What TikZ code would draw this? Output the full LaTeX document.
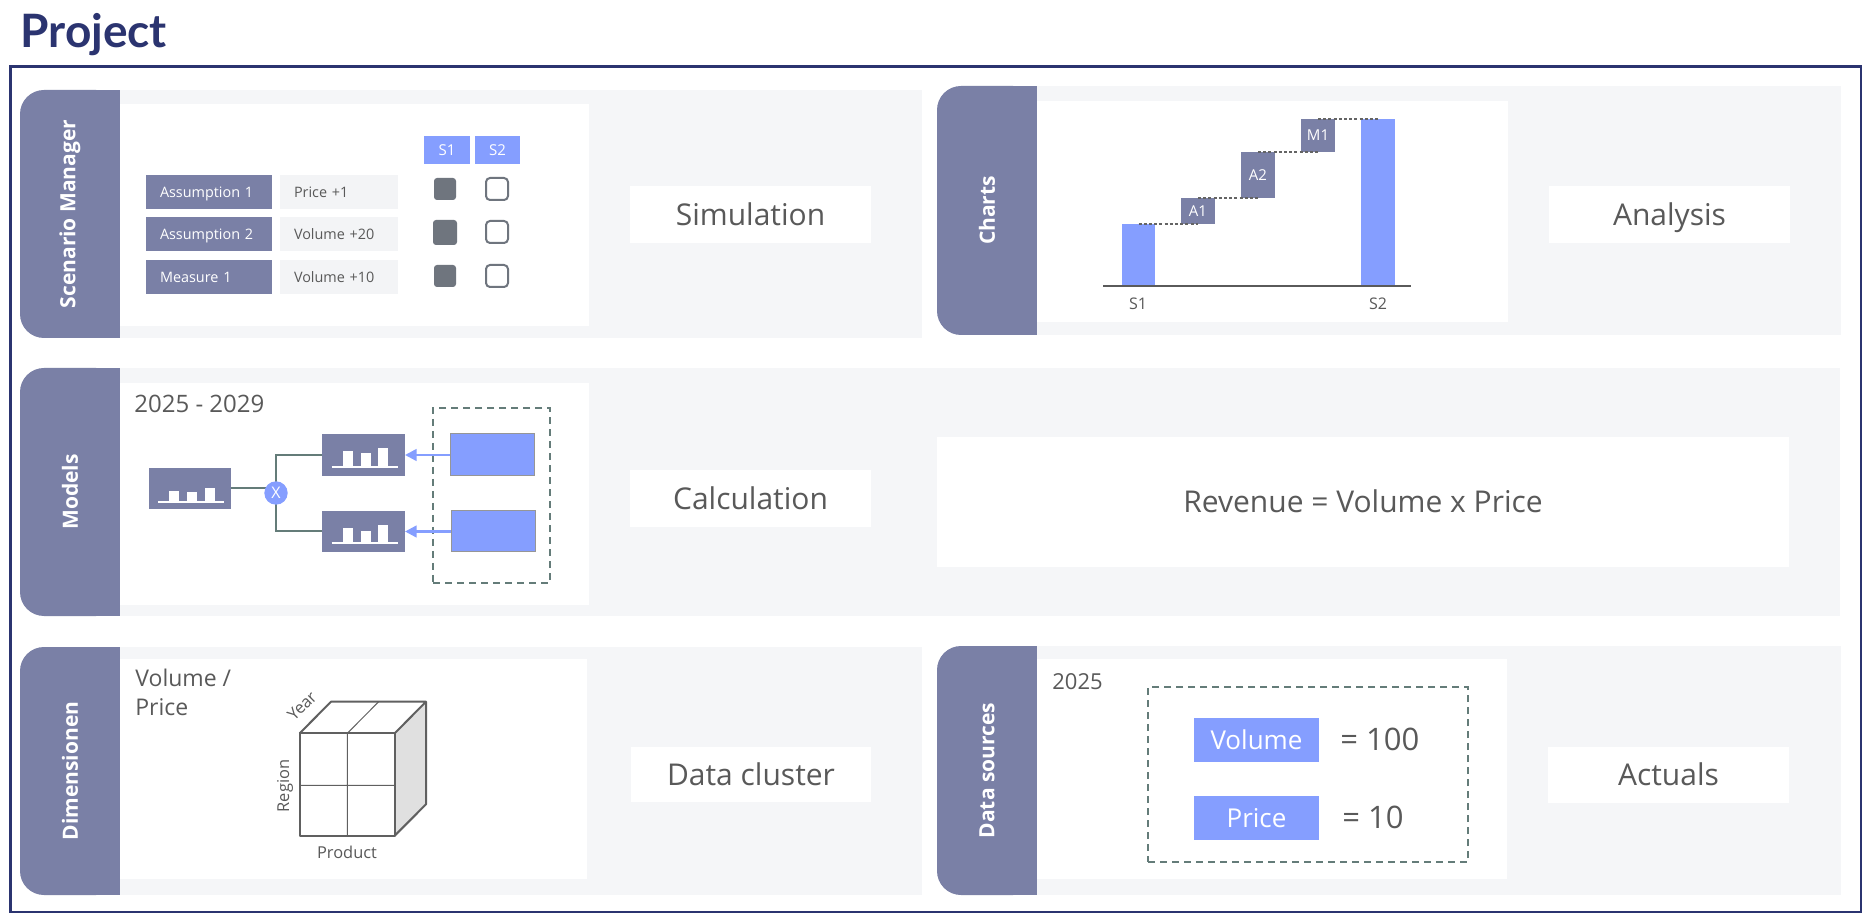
\documentclass[tikz,border=0pt]{standalone}
\usepackage{fontspec}
\setmainfont{Open Sans}
\newfontfamily\titlefont{Lato}
\usetikzlibrary{arrows.meta}
\definecolor{navy}{RGB}{43,52,112}
\definecolor{tabc}{RGB}{122,128,166}
\definecolor{panelbg}{RGB}{245,246,248}
\definecolor{rowbg}{RGB}{243,244,246}
\definecolor{bblue}{RGB}{133,158,255}
\definecolor{txtgray}{RGB}{89,89,89}
\definecolor{chk}{RGB}{111,117,126}
\definecolor{conngray}{RGB}{100,124,121}
\definecolor{cubeline}{RGB}{96,96,96}
\definecolor{cubeface}{RGB}{224,224,224}
\definecolor{rectline}{RGB}{150,150,150}
\definecolor{axisc}{RGB}{90,90,90}
\definecolor{dotc}{RGB}{100,100,100}

\newcommand\mkbox[7]{\node[bx,#6,minimum width={(#4-#2)*0.5pt},minimum height={(#5-#3)*0.5pt}] (#1) at ({(#2+#4)/2},{(#3+#5)/2}) {#7};}
\newcommand\tabpanel[6]{%
  \fill[panelbg] (#2+100,#3) rectangle (#5,#4);
  \fill[tabc, rounded corners=12pt] (#2,#3) rectangle (#2+100,#4);
  \fill[tabc] (#2+50,#3) rectangle (#2+100,#4);
  \node[tabtxt] (#1) at (#2+50,{(#3+#4)/2}) {#6};}
\newcommand\barsicon[5]{%
  \begin{scope}[shift={(#1.center)}]
    \fill[white] (-21,#2) rectangle (-11,#3);
    \fill[white] (-3,#2) rectangle (7,#4);
    \fill[white] (14.5,#2) rectangle (24.5,#5);
    \draw[white, line width=1pt] (-32,#2) -- (34,#2);
  \end{scope}}

\begin{document}
\begin{tikzpicture}[x=0.5pt,y=-0.5pt,
  bx/.style={rectangle, inner sep=0pt, outer sep=0pt},
  tabtxt/.style={text=white, font={\fontsize{10.5pt}{12pt}\selectfont\bfseries}, rotate=90, inner sep=0pt},
  biglbl/.style={fill=white, text=txtgray, font={\fontsize{15pt}{18pt}\selectfont}, text height=10.7pt, text depth=0pt},
  hdr/.style={fill=bblue, text=white, font={\fontsize{7.5pt}{9pt}\selectfont}, text height=5.4pt, text depth=0pt},
  rowlab/.style={bx, fill=tabc, text=white, font={\fontsize{7.2pt}{9pt}\selectfont}, minimum height=17pt, text width=49pt, inner xsep=7pt, align=left, text height=5.2pt, text depth=0pt},
  rowval/.style={bx, fill=rowbg, text=txtgray, font={\fontsize{7.2pt}{9pt}\selectfont}, minimum height=17pt, text width=45pt, inner xsep=7pt, align=left, text height=5.2pt, text depth=0pt},
  chkf/.style={fill=chk, rounded corners=1.5pt},
  chke/.style={draw=chk, fill=white, line width=1pt, rounded corners=2pt},
  bar/.style={fill=bblue},
  wfbox/.style={fill=tabc, text=white, font={\fontsize{7.5pt}{9pt}\selectfont}, text height=5.4pt, text depth=0pt},
  dotl/.style={draw=dotc, line width=0.6pt, dash pattern=on 1.5pt off 1.1pt},
  axlbl/.style={inner sep=0pt, text=txtgray, font={\fontsize{8pt}{9pt}\selectfont}},
  mbox/.style={fill=tabc},
  brect/.style={fill=bblue, draw=rectline, line width=0.5pt},
  dashbox/.style={draw=conngray, line width=1pt, dash pattern=on 3.5pt off 2.5pt},
  conn/.style={draw=conngray, line width=1pt},
  barrow/.style={draw=bblue, line width=1.25pt, -{Triangle[length=5.8pt,width=5.8pt]}},
  plain/.style={inner sep=0pt, text=txtgray},
  bluebox/.style={fill=bblue, text=white, font={\fontsize{13pt}{15pt}\selectfont}, text height=9.3pt, text depth=0pt},
  cubelbl/.style={inner sep=0pt, text=txtgray, font={\fontsize{8.2pt}{9pt}\selectfont}}
]
\useasboundingbox (0,0) rectangle (1868,924);
\fill[white] (0,0) rectangle (1868,924);

% title and frame
\node[anchor=base west, inner sep=0pt, text=navy, font={\titlefont\bfseries\fontsize{23pt}{26pt}\selectfont}] (title) at (20,47.3) {Project};
\draw[navy, line width=1.25pt] (10.7,66.7) rectangle (1861,912);

% panels
\tabpanel{t1}{20}{90}{338}{922}{Scenario Manager}
\tabpanel{t2}{937}{86}{335}{1841}{Charts}
\tabpanel{t3}{20}{368}{616}{1840}{Models}
\tabpanel{t4}{20}{647}{895}{922}{Dimensionen}
\tabpanel{t5}{937}{646}{895}{1841}{Data sources}

\fill[white] (120,104) rectangle (589,326);
\fill[white] (1037,101) rectangle (1508,322);
\fill[white] (120,383) rectangle (589,605);
\fill[white] (120,659) rectangle (587,879);
\fill[white] (1037,659) rectangle (1507,879);

% right-hand labels
\mkbox{sim}{630}{186}{871}{243}{biglbl}{Simulation}
\mkbox{ana}{1549}{186}{1790}{243}{biglbl}{Analysis}
\mkbox{calc}{630}{470}{871}{527}{biglbl}{Calculation}
\mkbox{rev}{937}{437}{1789}{567}{biglbl}{Revenue = Volume x Price}
\mkbox{dc}{631}{747}{871}{802}{biglbl}{Data cluster}
\mkbox{act}{1548}{747}{1789}{803}{biglbl}{Actuals}

% Scenario manager
\mkbox{hs1}{424}{136}{470}{164}{hdr}{S1}
\mkbox{hs2}{475}{136}{520}{164}{hdr}{S2}
\node[rowlab] (ra1) at (209,192) {Assumption 1};
\node[rowval] (rv1) at (339,192) {Price +1};
\node[rowlab] (ra2) at (209,234) {Assumption 2};
\node[rowval] (rv2) at (339,234) {Volume +20};
\node[rowlab] (ra3) at (209,277) {Measure 1};
\node[rowval] (rv3) at (339,277) {Volume +10};
\mkbox{c11}{434}{178}{456}{200}{chkf}{}
\mkbox{c21}{433}{220}{457}{245}{chkf}{}
\mkbox{c31}{434}{265}{456}{287}{chkf}{}
\mkbox{c12}{486}{178}{508}{200}{chke}{}
\mkbox{c22}{486}{221}{508}{243}{chke}{}
\mkbox{c32}{486}{265}{508}{287}{chke}{}

% Charts
\coordinate (axl) at (1103,286);
\coordinate (axr) at (1411,286);
\mkbox{bs1}{1122}{224}{1155}{286}{bar}{}
\mkbox{ba1}{1181}{198}{1215}{224}{wfbox}{A1}
\mkbox{ba2}{1241}{152}{1275}{198}{wfbox}{A2}
\mkbox{bm1}{1301}{119}{1335}{152}{wfbox}{M1}
\mkbox{bs2}{1361}{119}{1395}{286}{bar}{}
\draw[axisc, line width=0.75pt] (axl) -- (axr);
\draw[dotl] (bs1.north) -- (ba1.south);
\draw[dotl] (ba1.north) -- (ba2.south);
\draw[dotl] (ba2.north) -- (bm1.south);
\draw[dotl] (bm1.north) -- (bs2.north);
\node[axlbl] (ls1) at (1138,304) {S1};
\node[axlbl] (ls2) at (1378,304) {S2};

% Models
\node[plain, anchor=base west, font={\fontsize{12pt}{14pt}\selectfont}] (yrs) at (134,413) {2025 - 2029};
\mkbox{lb}{149}{468}{231}{509}{mbox}{}
\mkbox{ub}{322}{434}{405}{476}{mbox}{}
\mkbox{db}{322}{511}{405}{552}{mbox}{}
\coordinate (cx) at (276,493);
\draw[conn] (lb.east) -- (lb.east -| cx);
\draw[conn] (cx) |- (ub.west);
\draw[conn] (cx) |- (db.west);
\node[circle, fill=bblue, text=white, minimum size=11.7pt, inner sep=0pt, font={\fontsize{8pt}{9pt}\selectfont}] (cxl) at (cx) {X};
\barsicon{lb}{13.2}{2.5}{3.8}{-0.8}
\barsicon{ub}{11.7}{-4.3}{-2}{-7.3}
\barsicon{db}{11.8}{-3.8}{-0.5}{-6.8}
\mkbox{dbx}{433}{408}{550}{583}{dashbox}{}
\mkbox{ur}{450}{434}{534}{476}{brect}{}
\mkbox{lr}{451}{511}{535}{552}{brect}{}
\draw[barrow] (ur.west) -- (ub.east);
\draw[barrow] (lr.west) -- (db.east);

% Dimensionen
\node[plain, anchor=north west, align=left, font={\fontsize{11.5pt}{14.5pt}\selectfont}] (vp) at (135,669) {Volume /\\Price};
\fill[white] (299.7,733.3) rectangle (394.7,835.7);
\fill[cubeface] (394.7,733.3) -- (426,701.7) -- (426,804.3) -- (394.7,835.7) -- cycle;
\draw[cubeline, line width=0.5pt] (347.3,733.3) -- (347.3,835.7) (299.7,785.3) -- (394.7,785.3) (347.3,733.3) -- (378.7,701.7);
\draw[cubeline, line width=1pt, line join=round] (299.7,733.3) rectangle (394.7,835.7);
\draw[cubeline, line width=1pt, line join=round] (299.7,733.3) -- (331,701.7) -- (426,701.7) -- (426,804.3) -- (394.7,835.7) (394.7,733.3) -- (426,701.7);
\node[cubelbl, rotate=45] (yl) at (302,706) {Year};
\node[cubelbl, rotate=90] (rl) at (285,786) {Region};
\node[cubelbl] (pl) at (347,852) {Product};

% Data sources
\node[plain, anchor=base west, font={\fontsize{11pt}{13pt}\selectfont}] (y25) at (1052,689) {2025};
\mkbox{dsb}{1148}{687}{1468}{862}{dashbox}{}
\mkbox{vol}{1194}{718}{1319}{762}{bluebox}{Volume}
\mkbox{pri}{1194}{796}{1319}{840}{bluebox}{Price}
\node[plain, anchor=west, font={\fontsize{15.5pt}{18pt}\selectfont}, text height=11pt, text depth=0pt] (eq1) at (1340,739) {= 100};
\node[plain, anchor=west, font={\fontsize{15.5pt}{18pt}\selectfont}, text height=11pt, text depth=0pt] (eq2) at (1342,817) {= 10};
\end{tikzpicture}
\end{document}
